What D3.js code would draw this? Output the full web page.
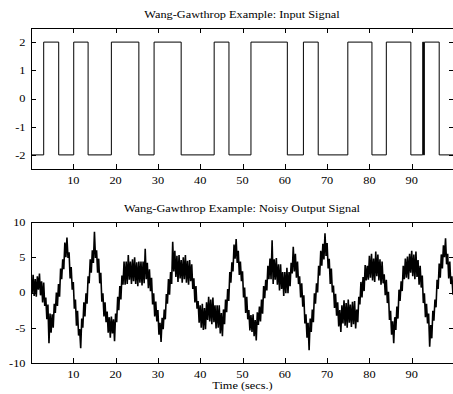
<!DOCTYPE html>
<html>
<head>
<meta charset="utf-8">
<script src="https://cdn.jsdelivr.net/npm/d3@7"></script>
<style>
  body { margin: 0; background: #fff; }
  svg { display: block; }
  text { font-family: "Liberation Serif", "Times New Roman", serif; fill: #000; }
</style>
</head>
<body>
<svg width="453" height="394"></svg>
<script>
// input signal: switching instants and the level held after each one
const inputSwitchTimes = [0, 3.0, 6.55, 10.1, 13.5, 19.0, 25.5, 29.1, 35.5, 43.3, 46.8, 52.0, 60.6,
  64.4, 67.9, 74.9, 80.6, 84.0, 89.8, 92.6, 92.8, 93.0, 96.5, 100];
const inputLevels = [-2, 2, -2, 2, -2, 2, -2, 2, -2, 2, -2, 2, -2,
  2, -2, 2, -2, 2, -2, 2, -2, 2, -2, -2];

const outputStep = 0.25;
const outputSignal = [
  2.0, -0.2, 2.5, -0.5,   1.9, -0.6, 2.3, 0.4,   2.7, -0.4, 1.6, -1.4,   1.4, -1.9, -0.7, -3.8,
  -1.7, -7.2, -3.0, -5.7, -3.1, -5.0, -1.6, -2.9, 0.0, -1.9, 1.2, -0.6,  3.4, 1.9, 4.7, 3.3,
  7.1, 5.0, 7.8, 4.9,     5.7, 2.0, 3.6, 0.4,    1.5, -2.3, -1.0, -4.7,  -2.6, -6.1, -5.2, -7.9,
  -3.7, -5.0, -1.4, -3.4, -0.1, -1.6, 2.3, 1.3,  4.7, 2.8, 6.0, 4.2,     8.6, 4.9, 6.0, 2.8,
  4.8, 1.3, 2.8, -1.3,    -0.1, -3.4, -1.4, -4.2, -2.7, -5.7, -3.5, -6.4, -3.4, -5.8, -3.8, -6.9,
  -3.0, -4.2, -0.6, -2.5, 0.9, -1.0, 2.4, 1.1,   4.4, 1.1, 4.4, 1.2,     5.3, 1.8, 4.4, 1.2,
  4.7, 1.6, 5.0, 1.2,     4.3, 0.9, 4.4, 1.4,    4.4, 1.0, 4.4, 1.3,     6.2, 1.9, 4.2, 0.6,
  3.3, 0.2, 2.1, -1.7,    -0.1, -3.4, -1.3, -4.1, -2.5, -6.0, -4.3, -7.0, -3.6, -5.2, -2.4, -3.8,
  -0.2, -1.6, 1.9, -0.3,  2.9, 1.2, 7.2, 3.0,    5.9, 2.2, 5.2, 1.5,     5.3, 2.0, 4.6, 1.4,
  5.0, 1.9, 5.3, 1.4,     4.5, 1.1, 4.6, 1.6,    4.0, 0.5, 2.0, -1.4,    0.9, -2.3, -1.2, -4.3,
  -1.8, -5.0, -1.6, -5.3, -2.2, -5.2, -1.4, -3.9, -0.6, -4.1, -1.0, -4.5, -0.7, -4.2, -1.8, -5.1,
  -1.8, -5.0, -1.8, -5.8, -2.9, -6.2, -2.4, -4.5, -1.0, -2.8, 0.5, -1.2,  2.9, 1.4, 4.3, 3.0,
  6.8, 4.8, 7.6, 4.2,     5.9, 2.5, 4.4, 1.6,    3.0, -0.7, 0.7, -2.9,   -0.6, -3.8, -2.5, -5.4,
  -3.2, -5.6, -3.1, -6.2, -3.9, -6.8, -2.8, -4.6, -2.0, -4.1, -1.0, -3.0, 0.9, -0.8, 1.8, 0.3,
  3.8, 1.9, 4.8, 1.9,     7.4, 1.2, 4.7, 1.8,    4.9, 1.1, 4.0, 0.3,     4.0, 0.5, 2.9, -0.5,
  2.9, -0.1, 3.5, -0.1,   2.9, 0.9, 4.2, 2.7,    6.5, 3.0, 5.5, 2.1,     4.4, 1.2, 2.3, -0.7,
  1.3, -2.0, -0.4, -4.4,  -3.1, -6.4, -4.3, -8.2, -3.7, -5.6, -2.4, -4.2, -0.1, -1.6, 1.3, 0.0,
  3.8, 2.4, 5.9, 3.8,     6.9, 4.7, 8.4, 5.2,    7.0, 3.4, 4.8, 1.2,     3.4, 0.0, 1.0, -2.2,
  -0.2, -3.3, -1.4, -4.8, -2.5, -5.6, -1.8, -4.4, -1.1, -4.7, -1.5, -5.0, -1.0, -4.3, -1.7, -4.9,
  -1.3, -4.5, -1.2, -5.1, -2.4, -4.2, -0.6, -1.7, 1.5, -0.7, 2.2, 0.2,   3.9, 1.7, 3.8, 1.8,
  5.2, 2.1, 5.5, 1.7,     4.8, 1.5, 5.8, 2.3,    5.4, 1.7, 4.7, 1.1,     4.4, 1.3, 2.6, -0.4,
  1.8, -1.5, 0.1, -3.9,   -2.6, -6.0, -4.1, -7.2, -3.5, -5.3, -2.0, -3.7, 0.4, -1.2, 1.6, 0.2,
  3.8, 1.9, 4.8, 2.1,     5.1, 1.9, 5.5, 2.8,    5.9, 2.3, 5.4, 1.9,     5.8, 2.2, 4.6, 1.1,
  3.8, 0.7, 2.4, -1.5,    -0.1, -3.5, -1.6, -4.4, -3.0, -7.7, -4.6, -6.5, -2.6, -4.0, -1.0, -2.1,
  1.8, 0.5, 4.1, 2.1,     5.4, 3.4, 6.7, 5.0,    7.7, 4.0, 5.5, 2.0,     4.4, 1.2, 2.3, -0.3,
  2.3
];

const xTicks = [10, 20, 30, 40, 50, 60, 70, 80, 90];
const inputYTicks = [-2, -1, 0, 1, 2];
const outputYTicks = [-10, -5, 0, 5, 10];

const svg = d3.select("svg");
const left = 31, right = 454;
const textScale = 1.12;   // the figure is a little stretched sideways
const tickLen = 5;

function label(g, str, x, y, anchor) {
  return g.append("text")
    .attr("transform", `translate(${x},${y}) scale(${textScale},1)`)
    .attr("text-anchor", anchor)
    .attr("font-size", 11)
    .text(str);
}

function drawPanel(opts) {
  const x = d3.scaleLinear().domain([0, 100]).range([left, right]);
  const y = d3.scaleLinear().domain(opts.yDomain).range([opts.bottom, opts.top]);
  const g = svg.append("g");

  const clipId = "clip" + opts.top;
  g.append("clipPath").attr("id", clipId)
    .append("rect").attr("x", left).attr("y", opts.top)
    .attr("width", right - left).attr("height", opts.bottom - opts.top);

  g.append("path")
    .datum(opts.points)
    .attr("clip-path", `url(#${clipId})`)
    .attr("fill", "none")
    .attr("stroke", "#000")
    .attr("stroke-width", opts.lineWidth)
    .attr("stroke-linejoin", "bevel")
    .attr("d", d3.line().x(d => x(d[0])).y(d => y(d[1])).curve(opts.curve));

  // box
  g.append("rect")
    .attr("x", left + 0.5).attr("y", opts.top + 0.5)
    .attr("width", right - left).attr("height", opts.bottom - opts.top)
    .attr("fill", "none").attr("stroke", "#000").attr("stroke-width", 1);

  // inward ticks on all four sides
  const ticks = g.append("g").attr("stroke", "#000").attr("stroke-width", 1);
  xTicks.forEach(t => {
    const px = Math.round(x(t)) + 0.5;
    ticks.append("line").attr("x1", px).attr("x2", px).attr("y1", opts.bottom).attr("y2", opts.bottom - tickLen);
    ticks.append("line").attr("x1", px).attr("x2", px).attr("y1", opts.top).attr("y2", opts.top + tickLen);
    label(g, t, x(t), opts.bottom + 15, "middle");
  });
  opts.yTicks.forEach(v => {
    const py = Math.round(y(v)) + 0.5;
    ticks.append("line").attr("x1", left).attr("x2", left + tickLen).attr("y1", py).attr("y2", py);
    ticks.append("line").attr("x1", right).attr("x2", right - tickLen).attr("y1", py).attr("y2", py);
    label(g, v, 25.5, y(v) + 3.8, "end");
  });

  label(g, opts.title, 242, opts.top - 10.5, "middle");
  if (opts.xLabel) label(g, opts.xLabel, 242.5, opts.bottom + 26, "middle");
}

drawPanel({
  title: "Wang-Gawthrop Example: Input Signal",
  top: 28, bottom: 169,
  yDomain: [-2.5, 2.5],
  yTicks: inputYTicks,
  points: inputSwitchTimes.map((t, i) => [t, inputLevels[i]]),
  curve: d3.curveStepAfter,
  lineWidth: 1
});

drawPanel({
  title: "Wang-Gawthrop Example: Noisy Output Signal",
  top: 222, bottom: 363,
  yDomain: [-10, 10],
  yTicks: outputYTicks,
  points: outputSignal.map((v, i) => [i * outputStep, v]),
  curve: d3.curveLinear,
  lineWidth: 1.6,
  xLabel: "Time (secs.)"
});
</script>
</body>
</html>
